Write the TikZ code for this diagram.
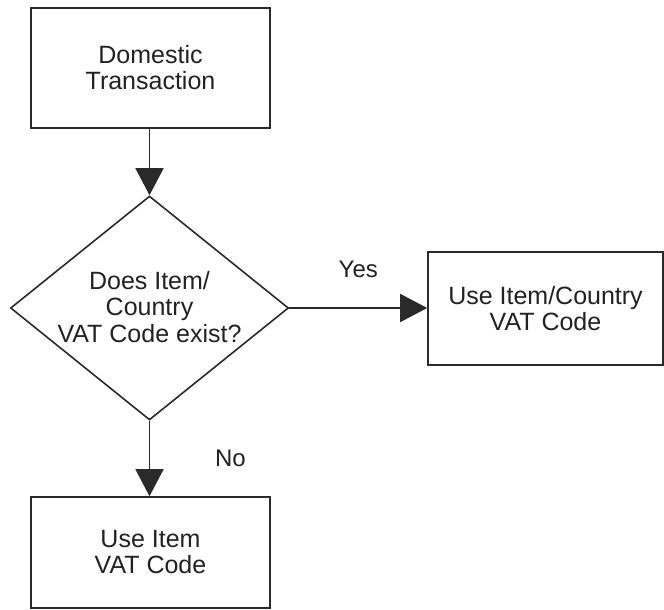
\documentclass[tikz,border=0pt]{standalone}
\usepackage{fontspec}
\setmainfont{Liberation Sans}
\usetikzlibrary{shapes.geometric,arrows.meta}
\definecolor{lineclr}{HTML}{2A2A2A}
\definecolor{txtclr}{HTML}{222222}
\tikzset{
  procbox/.style={draw=lineclr, line width=1.6pt, rectangle, inner sep=0pt,
    align=center, text=txtclr, font=\fontsize{25}{26}\selectfont},
  decbox/.style={draw=lineclr, line width=1.6pt, diamond, inner sep=0pt,
    minimum width=278pt, minimum height=224pt},
  txtnode/.style={align=center, text=txtclr, font=\fontsize{25}{26.5}\selectfont, inner sep=0pt},
  lbl/.style={text=txtclr, font=\fontsize{24}{26}\selectfont, inner sep=0pt},
  flow/.style={draw=lineclr, line width=1.6pt,
    -{Triangle[length=27pt, width=28pt]}}
}
\begin{document}
\begin{tikzpicture}[x=1pt, y=-1pt]
  \useasboundingbox[fill=white] (0,0) rectangle (664,610);
  \node[procbox, minimum width=239pt, minimum height=120pt] (dom) at (150.5,68) {Domestic\\Transaction};
  \node[decbox] (dec) at (149.5,308) {};
  \node[txtnode] (dectxt) at (149.5,307) {Does Item/\\Country\\VAT Code exist?};
  \node[procbox, minimum width=235pt, minimum height=113pt] (yes) at (545.5,308.5) {Use Item/Country\\VAT Code};
  \node[procbox, minimum width=239pt, minimum height=111pt] (no) at (150.5,552.5) {Use Item\\VAT Code};
  \draw[flow] (dom.south -| dec.north) -- (dec.north);
  \draw[flow] (dec.east) -- (dec.east -| yes.west) node[lbl, midway, yshift=39pt] {Yes};
  \draw[flow] (dec.south) -- (dec.south |- no.north) node[lbl, midway, xshift=81pt] {No};
\end{tikzpicture}
\end{document}
